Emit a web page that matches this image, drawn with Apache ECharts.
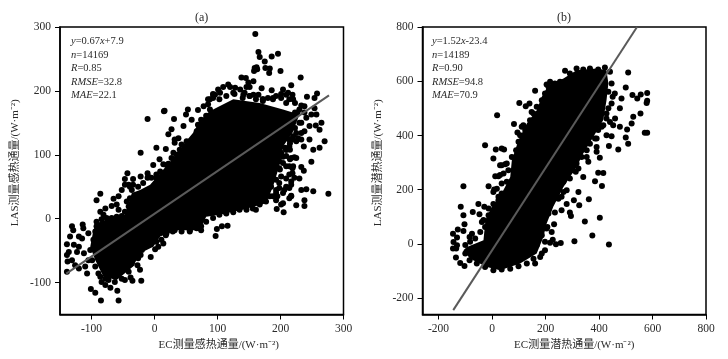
<!DOCTYPE html>
<html>
<head>
<meta charset="utf-8">
<style>html,body{margin:0;background:#fff}#main{width:728px;height:359px}</style>
<script src="https://cdn.jsdelivr.net/npm/echarts@6/dist/echarts.min.js"></script>
</head>
<body>
<div id="main"></div>
<script>
// ticks
var ticksA = [-100, 0, 100, 200, 300];
var ticksB = [-200, 0, 200, 400, 600, 800];

// fitted lines
var lineA = [[-140, -86], [277, 193]];
var lineB = [[-145, -244], [542, 800]];

// outline of the solid overplotted mass
var massA = [[-92,-7],[-70,1],[-47,6],[-41,24],[-36,40],[-23,45],[-7,53],[14,77],[30,95],[48,119],[61,134],[72,153],[85,166],[93,171],[125,187],[167,181],[204,171],[230,163],[219,134],[204,113],[198,82],[188,50],[177,24],[140,14],[103,6],[82,3],[72,-18],[35,-18],[9,-28],[-2,-44],[-23,-54],[-34,-75],[-60,-96],[-81,-91],[-94,-65],[-102,-44],[-97,-18]];
var massB = [[-94,-11],[-32,14],[-26,75],[-26,87],[-1,137],[36,186],[68,247],[74,309],[99,383],[130,444],[167,493],[186,543],[211,586],[267,610],[316,641],[391,647],[428,641],[435,592],[428,530],[416,457],[379,395],[341,334],[316,284],[267,210],[229,137],[204,75],[192,26],[167,-35],[105,-72],[30,-97],[-19,-85],[-82,-54],[-107,-23]];

// individual points away from the mass
var pointsA = [[160,289],[165,261],[167,253],[196,258],[186,254],[175,246],[176,236],[159,236],[162,237],[163,234],[158,231],[183,235],[182,228],[200,231],[232,221],[217,209],[186,201],[170,204],[138,221],[145,220],[157,215],[149,213],[146,206],[204,202],[212,197],[219,194],[242,191],[258,196],[254,189],[254,173],[257,163],[238,166],[265,150],[256,146],[262,139],[270,121],[246,124],[262,111],[252,108],[237,113],[233,124],[220,129],[233,134],[249,89],[233,81],[237,75],[220,82],[219,71],[222,96],[215,93],[209,82],[196,92],[204,87],[199,77],[230,63],[217,58],
[16,169],[-11,156],[15,168],[31,156],[53,171],[69,170],[50,163],[59,155],[46,145],[27,140],[22,132],[32,124],[51,121],[-22,103],[3,111],[18,109],[8,93],[-2,84],[30,103],[19,84],[-43,71],[-22,66],[-11,71],[-47,62],[-34,62],[-65,31],[-52,45],[-57,35],[-86,39],[-92,29],[-68,20],[-60,22],[-57,14],[-78,16],[-86,11],[-81,6],[-47,53],[-39,50],[3,64],[-10,66],
[88,187],[96,194],[104,197],[117,210],[128,205],[151,206],[157,194],[141,194],[172,187],[193,192],[209,194],[220,187],[233,177],[93,195],
[-131,-12],[-129,-18],[-114,-9],[-113,-15],[-134,-28],[-139,-40],[-128,-41],[-120,-28],[-115,-31],[-105,-23],[-120,-44],[-123,-52],[-112,-54],[-139,-57],[-136,-52],[-138,-67],[-131,-65],[-126,-73],[-120,-78],[-110,-75],[-107,-86],[-105,-65],[-139,-83],
[-101,-110],[-94,-116],[-85,-128],[-57,-128],[-59,-113],[-70,-108],[-78,-104],[-84,-99],[-89,-86],[-78,-94],[-47,-96],[-38,-92],[-35,-97],[-21,-97],[-23,-80],[-27,-73],[-22,-57],[-6,-60],[1,-48],[6,-44],[14,-39],[18,-26],[29,-20],[56,-20],[74,-18],
[97,-27],[99,-16],[107,-12],[116,-11],[113,10],[161,14],[194,15],[201,22],[205,10],[225,21],[217,36],[214,48],[193,45],[188,35],[276,39],[252,43],[238,29],[238,20],[217,35],[233,45],[241,46],[204,24],[195,35],[209,50],[217,53],
[209,108],[217,95],[225,95],[198,90],[214,82],[219,79],[201,66],[214,69],[222,64],[209,63],[198,48],[204,40],[193,29],[214,32],[219,124],[209,134],[225,121],[214,113]];

// points along the rough edge of the mass
var edgeA = [[-92,-5],[-84,-1],[-76,1],[-68,1],[-60,3],[-52,4],[-47,11],[-41,19],[-44,27],[-39,32],[-31,35],[-36,45],[-41,53],[-34,53],[-26,50],[-18,56],[-11,64],[-5,64],[3,69],[9,74],[14,85],[22,86],[27,95],[35,100],[40,108],[43,116],[32,119],[38,126],[53,113],[61,124],[67,137],[69,147],[74,155],[82,161],[88,171],[85,179],[93,189],[103,187],[114,192],[127,195],[140,189],[151,192],[161,187],[172,184],[188,189],[201,195],[214,187],
[227,166],[230,150],[225,134],[214,124],[209,108],[201,103],[209,98],[193,92],[198,79],[188,71],[193,61],[185,50],[198,56],[206,45],[193,40],[183,35],[177,27],[167,22],[156,16],[146,14],[135,14],[125,10],[114,8],[103,6],[93,1],[82,-5],[74,-12],[67,-15],[56,-18],[43,-20],[32,-18],[19,-23],[11,-33],[3,-36],[-5,-31],[-10,-41],[-20,-49],[-26,-62],[-36,-70],[-41,-83],[-52,-94],[-63,-99],[-73,-96],[-86,-91],[-94,-75],[-99,-65],[-102,-49],[-97,-33],[-94,-20],[-92,-12],
[78,176],[85,187],[93,194],[101,202],[109,206],[120,206],[125,197],[136,202],[143,197],[151,192],[165,194],[172,187],[180,189],[188,187],[201,189],[209,181],[223,181],[230,171],[223,166],[238,176],[241,158],[249,163],[246,145],[233,150],[223,142],[238,137],[228,126],[215,118],[207,111],[215,108],[204,97],[194,100]];

var pointsB = [[19,475],[-26,364],[-107,213],[5,315],[14,348],[36,352],[45,348],[95,411],[82,442],[102,520],[126,508],[140,518],[161,565],[148,487],[111,432],[30,290],[49,294],[12,250],[30,254],[-13,213],[5,192],[24,174],[8,201],[-117,137],[-51,147],[-29,137],[-72,118],[-47,110],[-107,106],[-38,81],[-103,73],[-128,53],[-107,48],[-146,38],[-75,38],[-84,26],[-131,24],[-144,7],[-131,-5],[-146,-17],[-134,-17],[-135,-50],[-119,-70],[-103,-81],
[273,639],[204,588],[509,632],[500,577],[525,549],[556,551],[580,557],[543,536],[580,528],[578,520],[555,481],[528,469],[522,444],[571,410],[580,410],[505,422],[500,393],[509,370],[472,348],[437,361],[428,401],[447,397],[453,438],[478,432],[460,463],[478,500],[484,536],[459,555],[447,518],[428,481],[416,438],[391,389],[391,340],[403,318],[354,321],[360,303],[397,263],[416,262],[385,231],[411,214],[341,247],[313,266],[323,192],[362,165],[326,143],[279,147],[306,161],[260,124],[291,116],[295,103],[235,116],[211,112],[403,97],[347,83],[232,73],[204,57],[223,44],[375,31],[308,10],[437,-2],[257,4],[239,-1],[217,5],[227,16],[198,-23],[180,-48],[161,-72],[260,174],[242,186],[267,192]];

var edgeB = [[-100,-4],[-82,8],[-63,20],[-44,44],[-26,63],[-32,88],[-13,106],[-13,131],[5,147],[24,161],[36,186],[18,204],[36,223],[55,229],[24,250],[43,260],[61,272],[36,290],[55,297],[74,321],[90,346],[99,377],[105,401],[124,420],[117,438],[142,456],[155,481],[167,506],[186,530],[198,555],[211,580],[235,592],[254,598],[217,598],[291,629],[316,647],[341,643],[366,647],[397,643],[422,651],[441,635],[447,592],[435,561],[451,543],[435,500],[428,463],[441,450],[397,420],[410,432],[385,389],[366,370],[391,358],[354,346],[335,321],[316,297],[323,278],[298,272],[291,241],[267,229],[279,198],[248,167],[217,149],[211,124],[192,100],[207,63],[186,32],[198,8],[167,-5],[186,-35],[155,-54],[130,-72],[99,-82],[68,-91],[36,-94],[5,-97],[-26,-85],[-57,-72],[-84,-60],[-100,-35]];

// text in the plots
var statsA = '{i|y}=0.67{i|x}+7.9\n{i|n}=14169\n{i|R}=0.85\n{i|RMSE}=32.8\n{i|MAE}=22.1';
var statsB = '{i|y}=1.52{i|x}-23.4\n{i|n}=14189\n{i|R}=0.90\n{i|RMSE}=94.8\n{i|MAE}=70.9';

var fontFamily = '"Liberation Serif","Noto Sans CJK SC",serif';
var textColor = '#2a2a2a';

function statsTitle(text, left) {
  return {
    text: text,
    left: left,
    top: 35,
    padding: 0,
    textStyle: {
      color: textColor,
      fontFamily: fontFamily,
      fontSize: 10.5,
      fontWeight: 'normal',
      lineHeight: 13.4,
      rich: {
        i: {fontStyle: 'italic', fontFamily: fontFamily, fontSize: 10.5, color: textColor, lineHeight: 13.4}
      }
    }
  };
}

function panelTitle(text, left) {
  return {
    text: text,
    left: left,
    top: 12,
    padding: 0,
    textStyle: {color: textColor, fontFamily: fontFamily, fontSize: 12, fontWeight: 'normal'}
  };
}

function makeAxis(gridIndex, min, max, ticks, name, shift, gap) {
  return {
    gridIndex: gridIndex,
    type: 'value',
    min: min,
    max: max,
    name: name,
    nameLocation: 'middle',
    nameGap: gap,
    nameTextStyle: {
      color: textColor,
      fontFamily: fontFamily,
      fontSize: 11,
      padding: [0, 0, 0, shift]
    },
    splitLine: {show: false},
    axisLine: {onZero: false, lineStyle: {color: '#000', width: 1.5}},
    axisTick: {length: 5, customValues: ticks, lineStyle: {color: '#000', width: 1}},
    axisLabel: {customValues: ticks, margin: 9, color: textColor, fontFamily: fontFamily, fontSize: 11.5}
  };
}

function massSeries(axisIndex, mass) {
  return {
    type: 'custom',
    xAxisIndex: axisIndex,
    yAxisIndex: axisIndex,
    silent: true,
    data: mass,
    renderItem: function (params, api) {
      if (params.dataIndex !== 0) {
        return;
      }
      return {
        type: 'polygon',
        shape: {points: mass.map(function (p) { return api.coord(p); })},
        style: {fill: '#000'}
      };
    }
  };
}

function pointSeries(axisIndex, points) {
  return {
    type: 'scatter',
    xAxisIndex: axisIndex,
    yAxisIndex: axisIndex,
    data: points,
    symbolSize: 6,
    itemStyle: {color: '#000', opacity: 1}
  };
}

function lineSeries(axisIndex, line) {
  return {
    type: 'line',
    xAxisIndex: axisIndex,
    yAxisIndex: axisIndex,
    data: line,
    showSymbol: false,
    z: 5,
    lineStyle: {color: '#5a5a5a', width: 2}
  };
}

var chart = echarts.init(document.getElementById('main'));
chart.setOption({
  animation: false,
  backgroundColor: '#fff',
  title: [
    panelTitle('(a)', 195),
    panelTitle('(b)', 557),
    statsTitle(statsA, 71),
    statsTitle(statsB, 432)
  ],
  grid: [
    {left: 60, right: 384.5, top: 27, bottom: 44.5, show: true, borderColor: '#000', borderWidth: 1.5, backgroundColor: 'transparent'},
    {left: 422.5, right: 22, top: 27, bottom: 44.5, show: true, borderColor: '#000', borderWidth: 1.5, backgroundColor: 'transparent'}
  ],
  xAxis: [
    makeAxis(0, -150, 300, ticksA, 'EC测量感热通量/(W·m⁻²)', 34, 23),
    makeAxis(1, -260, 800, ticksB, 'EC测量潜热通量/(W·m⁻²)', 20, 23)
  ],
  yAxis: [
    makeAxis(0, -150, 300, ticksA, 'LAS测量感热通量/(W·m⁻²)', 16, 39),
    makeAxis(1, -260, 800, ticksB, 'LAS测量潜热通量/(W·m⁻²)', 16, 39)
  ],
  series: [
    massSeries(0, massA),
    pointSeries(0, pointsA),
    pointSeries(0, edgeA),
    lineSeries(0, lineA),
    massSeries(1, massB),
    pointSeries(1, pointsB),
    pointSeries(1, edgeB),
    lineSeries(1, lineB)
  ]
});
</script>
</body>
</html>
